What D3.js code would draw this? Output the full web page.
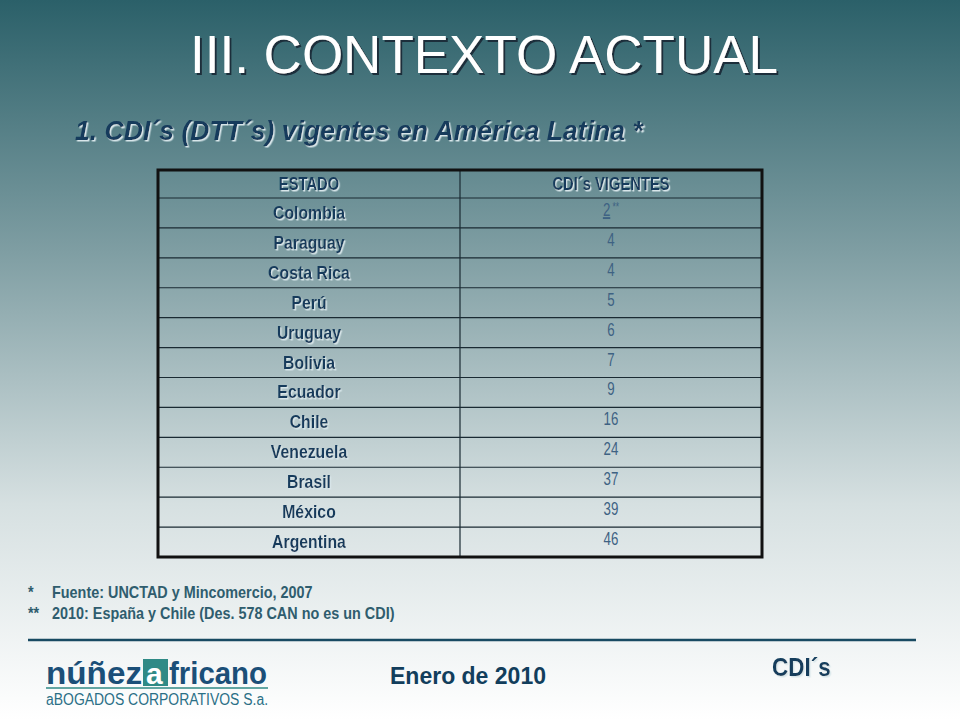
<!DOCTYPE html>
<html><head><meta charset="utf-8">
<script src="https://cdn.jsdelivr.net/npm/d3@7"></script>
<style>body{margin:0;} svg{display:block;}</style>
</head><body>
<svg id="slide" width="960" height="720"></svg>
<script>
const estados = ["Colombia","Paraguay","Costa Rica","Perú","Uruguay","Bolivia","Ecuador","Chile","Venezuela","Brasil","México","Argentina"];
const vigentes = [2,4,4,5,6,7,9,16,24,37,39,46];
const headers = ["ESTADO","CDI´s VIGENTES"];
const notes = ["Fuente: UNCTAD y Mincomercio, 2007","2010: España y Chile (Des. 578 CAN no es un CDI)"];

const svg = d3.select("#slide");
const defs = svg.append("defs");
const bg = defs.append("linearGradient").attr("id","bg").attr("x1",0).attr("y1",0).attr("x2",0).attr("y2",1);
bg.append("stop").attr("offset","0%").attr("stop-color","#2b6069");
bg.append("stop").attr("offset","35%").attr("stop-color","#7f9ea3");
bg.append("stop").attr("offset","70%").attr("stop-color","#d6e0e1");
bg.append("stop").attr("offset","100%").attr("stop-color","#ffffff");
svg.append("rect").attr("width",960).attr("height",720).attr("fill","url(#bg)");

const shDark = defs.append("filter").attr("id","shDark");
shDark.append("feDropShadow").attr("dx",2).attr("dy",2).attr("stdDeviation",0.6).attr("flood-color","#1a2f3a");
const shLight = defs.append("filter").attr("id","shLight");
shLight.append("feDropShadow").attr("dx",1.5).attr("dy",1.5).attr("stdDeviation",0.4).attr("flood-color","#d8e6ea");

const sans = "'Liberation Sans',Arial,sans-serif";
const navy = "#153a5c";

// condensed text helper
function ctext(g, x, y, s, sx) {
  return g.append("text").attr("transform",`translate(${x},${y}) scale(${sx},1)`).text(s);
}

// title
svg.append("text").attr("x",484).attr("y",73).attr("text-anchor","middle")
  .attr("font-family",sans).attr("font-size",53).attr("filter","url(#shDark)")
  .attr("fill","#ffffff").text("III. CONTEXTO ACTUAL");

ctext(svg, 75, 140, "1. CDI´s (DTT´s) vigentes en América Latina *", 0.95)
  .attr("font-family",sans).attr("font-size",28).attr("font-weight","bold")
  .attr("font-style","italic").attr("fill",navy).attr("filter","url(#shLight)");

// table
const x0 = 158, xm = 460, x1 = 762, tTop = 170, headH = 28, tBot = 557;
const y = d3.scaleBand().domain(estados).range([tTop+headH, tBot]);
const vScale = d3.scaleOrdinal().domain(estados).range(vigentes);

const t = svg.append("g");
t.selectAll("line.row").data(estados).join("line")
  .attr("x1",x0).attr("x2",x1).attr("y1",d=>y(d)).attr("y2",d=>y(d))
  .attr("stroke","#1a2a33").attr("stroke-width",1.2);
t.append("line").attr("x1",xm).attr("x2",xm).attr("y1",tTop).attr("y2",tBot)
  .attr("stroke","#1a2a33").attr("stroke-width",1.2);
t.append("rect").attr("x",x0).attr("y",tTop).attr("width",x1-x0).attr("height",tBot-tTop)
  .attr("fill","none").attr("stroke","#111").attr("stroke-width",3);

headers.forEach((h,i)=>{
  ctext(t, i?(xm+x1)/2:(x0+xm)/2, tTop+20, h, 0.82).attr("text-anchor","middle")
    .attr("font-family",sans).attr("font-weight","bold").attr("font-size",18)
    .attr("fill",navy).attr("filter","url(#shLight)");
});

estados.forEach(d=>{
  ctext(t, (x0+xm)/2, y(d)+y.bandwidth()/2+6, d, 0.88).attr("text-anchor","middle")
    .attr("font-family",sans).attr("font-weight","bold").attr("font-size",18)
    .attr("fill",navy).attr("filter","url(#shLight)");
});

estados.forEach((d,i)=>{
  const s = ctext(t, (xm+x1)/2, y(d)+y.bandwidth()/2+3, "", 0.7).attr("text-anchor","middle")
    .attr("font-family",sans).attr("font-size",19).attr("fill","#3e6283");
  s.append("tspan").attr("text-decoration",i===0?"underline":null).text(vScale(d));
  if(i===0) s.append("tspan").attr("font-size",12).attr("dy",-5).text(" **");
});

// notes
const nf = svg.append("g").attr("font-family",sans).attr("font-weight","bold").attr("font-size",16).attr("fill","#2f5d6e");
ctext(nf, 28, 598, "*", 0.9);
ctext(nf, 52, 598, notes[0], 0.9);
ctext(nf, 28, 619, "**", 0.9);
ctext(nf, 52, 619, notes[1], 0.9);

svg.append("line").attr("x1",28).attr("x2",916).attr("y1",640).attr("y2",640)
  .attr("stroke","#184a62").attr("stroke-width",2.5);

// footer
svg.append("text").attr("x",390).attr("y",684).attr("font-family",sans)
  .attr("font-weight","bold").attr("font-size",23).attr("fill","#123e5c").text("Enero de 2010");
ctext(svg, 772, 676, "CDI´s", 0.9).attr("font-family",sans)
  .attr("font-weight","bold").attr("font-size",25).attr("fill","#123e5c").attr("filter","url(#shLight)");

// logo
const logo = svg.append("g").attr("font-family",sans);
logo.append("text").attr("x",46).attr("y",684).attr("font-weight","bold").attr("font-size",32)
  .attr("fill","#1b4f78").attr("textLength",96).attr("lengthAdjust","spacingAndGlyphs").text("núñez");
logo.append("rect").attr("x",143).attr("y",659).attr("width",25).attr("height",27).attr("fill","#2f8a86");
logo.append("text").attr("x",146).attr("y",684).attr("font-weight","bold").attr("font-size",30)
  .attr("fill","#ffffff").text("a");
logo.append("text").attr("x",169).attr("y",684).attr("font-weight","bold").attr("font-size",32)
  .attr("fill","#1b4f78").attr("textLength",98).attr("lengthAdjust","spacingAndGlyphs").text("fricano");
logo.append("line").attr("x1",46).attr("x2",268).attr("y1",688).attr("y2",688).attr("stroke","#2f8a86").attr("stroke-width",1.5);
logo.append("text").attr("x",46).attr("y",705).attr("font-size",16).attr("fill","#2a6f86")
  .attr("textLength",222).attr("lengthAdjust","spacingAndGlyphs").text("aBOGADOS CORPORATIVOS S.a.");
</script>
</body></html>
